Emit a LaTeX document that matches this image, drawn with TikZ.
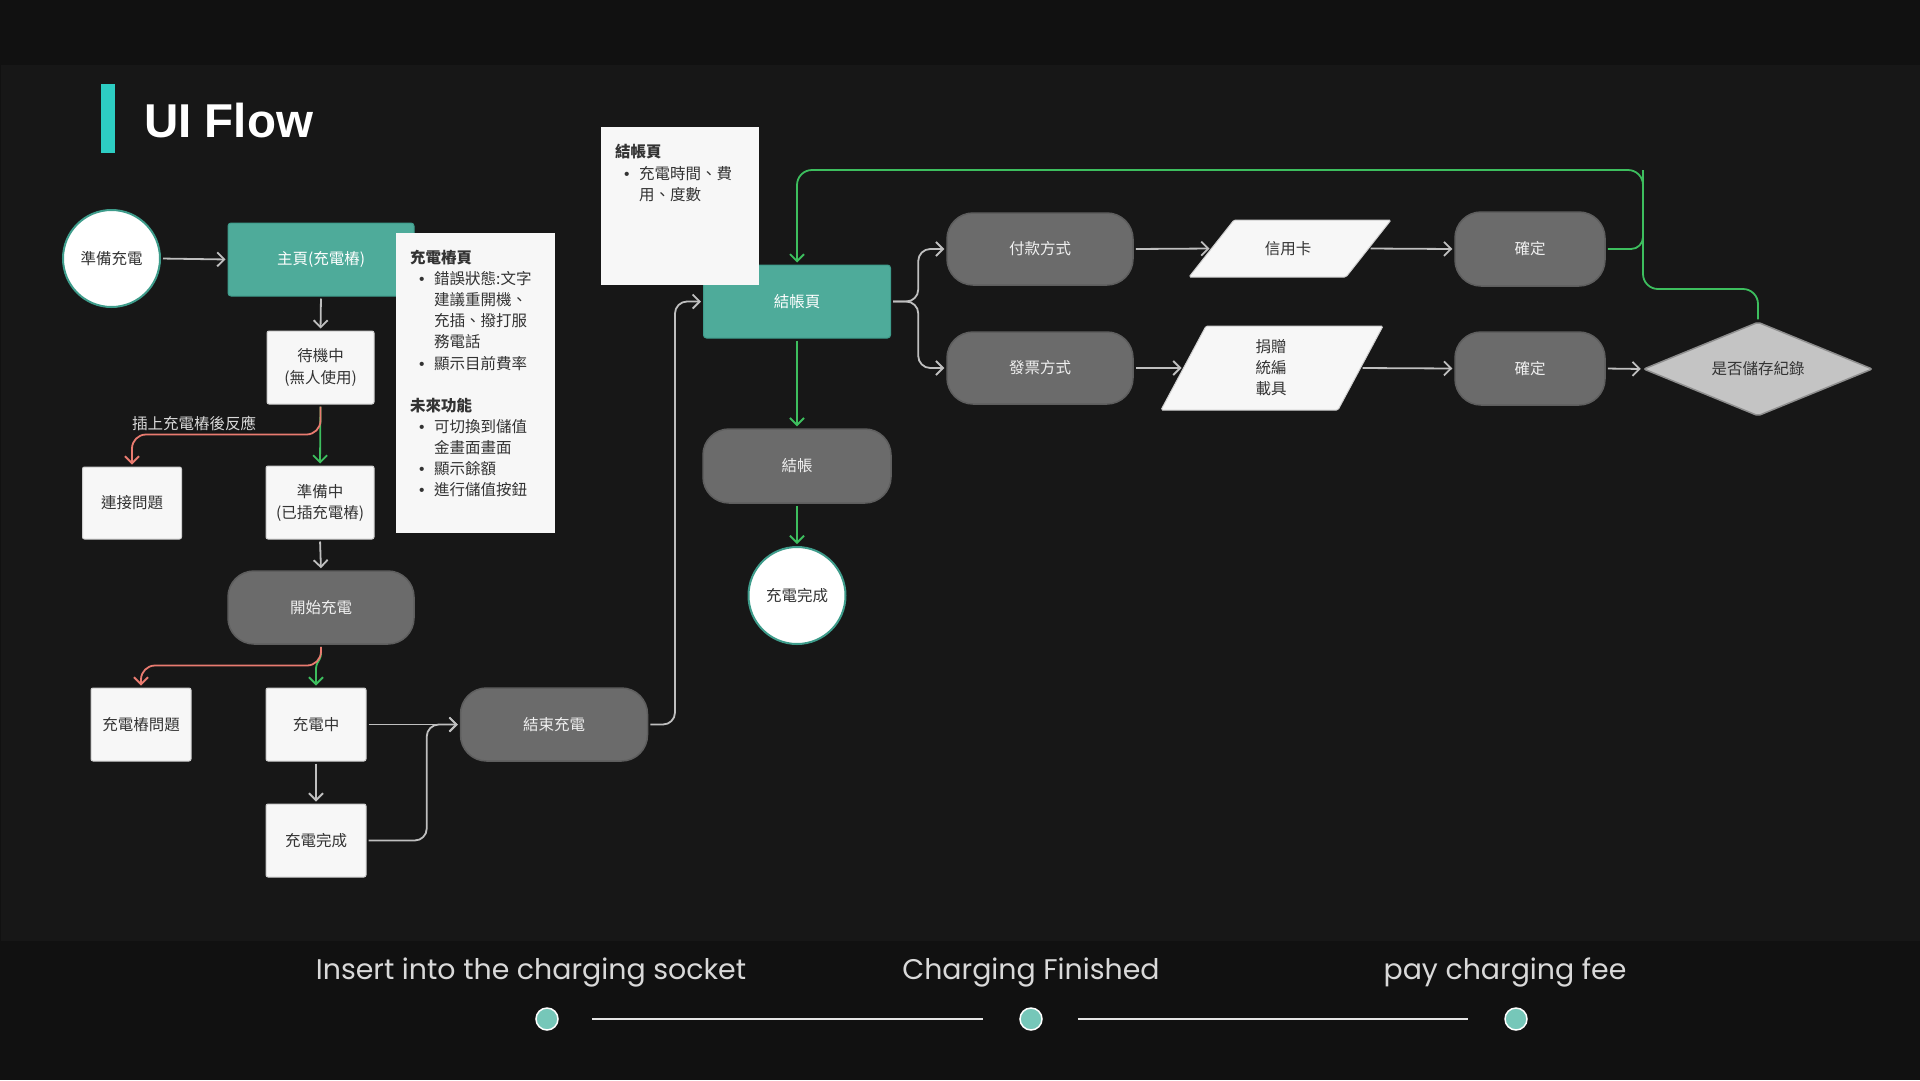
\documentclass[tikz,border=0pt]{standalone}
\usepackage{fontspec}
\setmainfont{Noto Sans CJK TC}
\newfontfamily\titlefont{Liberation Sans}
\newfontfamily\popfont{Poppins}
\usetikzlibrary{arrows.meta,shapes.geometric,calc}
\definecolor{bgout}{HTML}{111111}
\definecolor{bgpanel}{HTML}{171717}
\definecolor{tealbox}{HTML}{4EAB9A}
\definecolor{tealedge}{HTML}{3E9C8B}
\definecolor{tealbar}{HTML}{2DCDC3}
\definecolor{grayfill}{HTML}{6B6B6B}
\definecolor{grayedge}{HTML}{5E5E5E}
\definecolor{paper}{HTML}{F7F7F7}
\definecolor{paperedge}{HTML}{CFCFCF}
\definecolor{ink}{HTML}{333333}
\definecolor{conn}{HTML}{BFBFBF}
\definecolor{okgreen}{HTML}{3DBE5E}
\definecolor{errred}{HTML}{E97B70}
\definecolor{dotfill}{HTML}{76C7B9}
\definecolor{captext}{HTML}{D9D9D9}
\definecolor{decfill}{HTML}{C4C4C4}
\definecolor{decedge}{HTML}{8E8E8E}
\begin{document}
\begin{tikzpicture}[x=1pt,y=-1pt,
  cjk/.style={font=\fontsize{15.5}{21}\selectfont},
  wbox/.style={rectangle, draw=paperedge, line width=1pt, fill=paper, rounded corners=2pt, text=ink, align=center, inner sep=0pt, cjk},
  gbox/.style={rectangle, draw=grayedge, line width=1.5pt, fill=grayfill, rounded corners=26pt, text=white!94!black, align=center, inner sep=0pt, cjk},
  tbox/.style={rectangle, draw=tealedge, line width=1pt, fill=tealbox, rounded corners=3pt, text=white, align=center, inner sep=0pt, cjk},
  endpt/.style={circle, draw=tealedge, line width=2pt, fill=white, text=ink, minimum size=97pt, inner sep=0pt, cjk},
  para/.style={fill=paper, draw=paperedge, line width=1pt, rounded corners=1.5pt},
  notebg/.style={fill=paper, inner sep=0pt, anchor=north west},
  notetxt/.style={cjk, text=ink, anchor=base west, inner sep=0pt},
  notebul/.style={notetxt, font=\titlefont\fontsize{15.5}{21}\selectfont},
  notehead/.style={notetxt, font=\fontsize{15.5}{21}\selectfont\bfseries},
  flow/.style={draw=conn, line width=1.8pt, -{Straight Barb[length=7pt,width=14pt]}, shorten >=2pt, shorten <=2pt},
  good/.style={flow, draw=okgreen},
  bad/.style={flow, draw=errred},
  captxt/.style={font=\popfont\fontsize{28.4}{30}\selectfont, text=captext, anchor=base, inner sep=0pt},
  tdot/.style={circle, fill=dotfill, draw=white, line width=1.5pt, minimum size=22pt, inner sep=0pt}
]
\useasboundingbox (0,0) rectangle (1920,1080);
\fill[bgout] (0,0) rectangle (1920,1080);
\fill[bgpanel] (1,65) rectangle (1920,941);
\fill[tealbar] (101,84) rectangle (115,153);
\node[anchor=base west, text=white, font=\titlefont\bfseries\fontsize{47.5}{50}\selectfont, inner sep=0pt] (title) at (144,137) {UI Flow};

% left column
\node[endpt] (start) at (111.5,258.5) {準備充電};
\node[tbox, minimum width=186pt, minimum height=73pt] (home) at (321,259.5) {主頁(充電樁)};
\node[wbox, minimum width=107pt, minimum height=73pt] (idle) at (320.5,367.5) {待機中\\(無人使用)};
\node[wbox, minimum width=99pt, minimum height=72pt] (connp) at (132,503) {連接問題};
\node[wbox, minimum width=108pt, minimum height=73pt] (ready) at (320,502.5) {準備中\\(已插充電樁)};
\node[gbox, minimum width=186pt, minimum height=73pt] (begin) at (321,607.5) {開始充電};
\node[wbox, minimum width=100pt, minimum height=73pt] (pilep) at (141,724.5) {充電樁問題};
\node[wbox, minimum width=100pt, minimum height=73pt] (charging) at (316,724.5) {充電中};
\node[wbox, minimum width=100pt, minimum height=73pt] (full) at (316,840.5) {充電完成};
\node[gbox, minimum width=187pt, minimum height=73pt] (stop) at (554,724.5) {結束充電};

% note 1
\node[notebg, minimum width=159pt, minimum height=300pt] (note1) at (396,233) {};
\node[notehead] (n1h) at (410,263) {充電樁頁};
\node[notebul] (n1b1) at (419,284) {•};
\node[notetxt] (n1a) at (434,284) {錯誤狀態:文字};
\node[notetxt] (n1b) at (434,305) {建議重開機、};
\node[notetxt] (n1c) at (434,326) {充插、撥打服};
\node[notetxt] (n1d) at (434,347) {務電話};
\node[notebul] (n1b2) at (419,369) {•};
\node[notetxt] (n1e) at (434,369) {顯示目前費率};
\node[notehead] (n1h2) at (410,411) {未來功能};
\node[notebul] (n1b3) at (419,432) {•};
\node[notetxt] (n1f) at (434,432) {可切換到儲值};
\node[notetxt] (n1g) at (434,453) {金畫面畫面};
\node[notebul] (n1b4) at (419,474) {•};
\node[notetxt] (n1i) at (434,474) {顯示餘額};
\node[notebul] (n1b5) at (419,495) {•};
\node[notetxt] (n1j) at (434,495) {進行儲值按鈕};

% checkout column
\node[tbox, minimum width=187pt, minimum height=73pt] (bill) at (797,301.5) {結帳頁};
\node[notebg, minimum width=158pt, minimum height=158pt] (note2) at (601,127) {};
\node[notehead] (n2h) at (615,157) {結帳頁};
\node[notebul] (n2b1) at (624,179) {•};
\node[notetxt] (n2a) at (639,179) {充電時間、費};
\node[notetxt] (n2b) at (639,200) {用、度數};
\node[gbox, minimum width=188pt, minimum height=74pt] (settle) at (797,466) {結帳};
\node[endpt] (finish) at (797,595.5) {充電完成};

% payment branch
\node[gbox, minimum width=186pt, minimum height=72pt] (pay) at (1040,249) {付款方式};
\node[gbox, minimum width=186pt, minimum height=72pt] (inv) at (1040,368) {發票方式};
\filldraw[para] (1234,220) -- (1391,220) -- (1346,277) -- (1189,277) -- cycle;
\node[cjk, text=ink] (card) at (1288,249) {信用卡};
\coordinate (cardW) at (1211.5,248.5);
\coordinate (cardE) at (1368.5,248.5);
\filldraw[para] (1206,326) -- (1383,326) -- (1338,410) -- (1161,410) -- cycle;
\node[cjk, text=ink, align=center] (donate) at (1271,368) {捐贈\\統編\\載具};
\coordinate (donW) at (1183.5,368);
\coordinate (donE) at (1360.5,368);
\node[gbox, minimum width=150pt, minimum height=74pt] (ok1) at (1530,249) {確定};
\node[gbox, minimum width=150pt, minimum height=73pt] (ok2) at (1530,368.5) {確定};
\node[diamond, aspect=2.436, minimum width=229pt, minimum height=94pt, inner sep=0pt, fill=decfill, draw=decedge, line width=1.5pt, rounded corners=2pt, text=ink, cjk] (save) at (1758,369) {是否儲存紀錄};

% connectors
\draw[flow] (start.east) -- (home.west);
\draw[flow] (home.south) -- (idle.north);
\draw[good] (idle.south) -- (ready.north);
\draw[bad, rounded corners=14pt] (idle.south) |- ($(connp.north)+(0,-32)$) -- (connp.north);
\node[cjk, text=captext, inner sep=0pt] (lbl) at (194,423) {插上充電樁後反應};
\draw[flow] (ready.south) -- (begin.north);
\draw[good, rounded corners=3pt] (begin.south) -- ++(0,12) -- ($(charging.north)+(0,-22)$) -- (charging.north);
\draw[bad, rounded corners=14pt] (begin.south) |- ($(pilep.north)+(0,-22)$) -- (pilep.north);
\draw[flow] (charging.south) -- (full.north);
\draw[flow] (charging.east) -- (stop.west);
\draw[flow, rounded corners=12pt] (full.east) -| ($(stop.west)+(-33,0)$) -- (stop.west);
\draw[flow, rounded corners=12pt] (stop.east) -| ($(bill.west)+(-28,0)$) -- (bill.west);
\draw[flow, rounded corners=12pt] (bill.east) -| ($(pay.west)+(-28,0)$) -- (pay.west);
\draw[flow, rounded corners=12pt] (bill.east) -| ($(inv.west)+(-28,0)$) -- (inv.west);
\draw[flow] (pay.east) -- (cardW);
\draw[flow] (inv.east) -- (donW);
\draw[flow] (cardE) -- (ok1.west);
\draw[flow] (donE) -- (ok2.west);
\draw[flow] (ok2.east) -- (save.west);
\coordinate (gA) at (1643,289);
\coordinate (gB) at (1643,170);
\draw[good, rounded corners=15pt] (save.north) |- (gA) -- (gB) -| (bill.north);
\draw[okgreen, line width=1.8pt, rounded corners=12pt, shorten <=2pt] (ok1.east) -| (gB);
\draw[good] (bill.south) -- (settle.north);
\draw[good] (settle.south) -- (finish.north);

% timeline
\node[captxt] (c1) at (531,979) {Insert into the charging socket};
\node[captxt] (c2) at (1031,979) {Charging Finished};
\node[captxt] (c3) at (1505,979) {pay charging fee};
\node[tdot] (d1) at (547,1019) {};
\node[tdot] (d2) at (1031,1019) {};
\node[tdot] (d3) at (1516,1019) {};
\draw[white!90!black, line width=1.5pt] ([xshift=33pt]d1.east) -- ([xshift=-36pt]d2.west);
\draw[white!90!black, line width=1.5pt] ([xshift=35pt]d2.east) -- ([xshift=-36pt]d3.west);
\end{tikzpicture}
\end{document}
